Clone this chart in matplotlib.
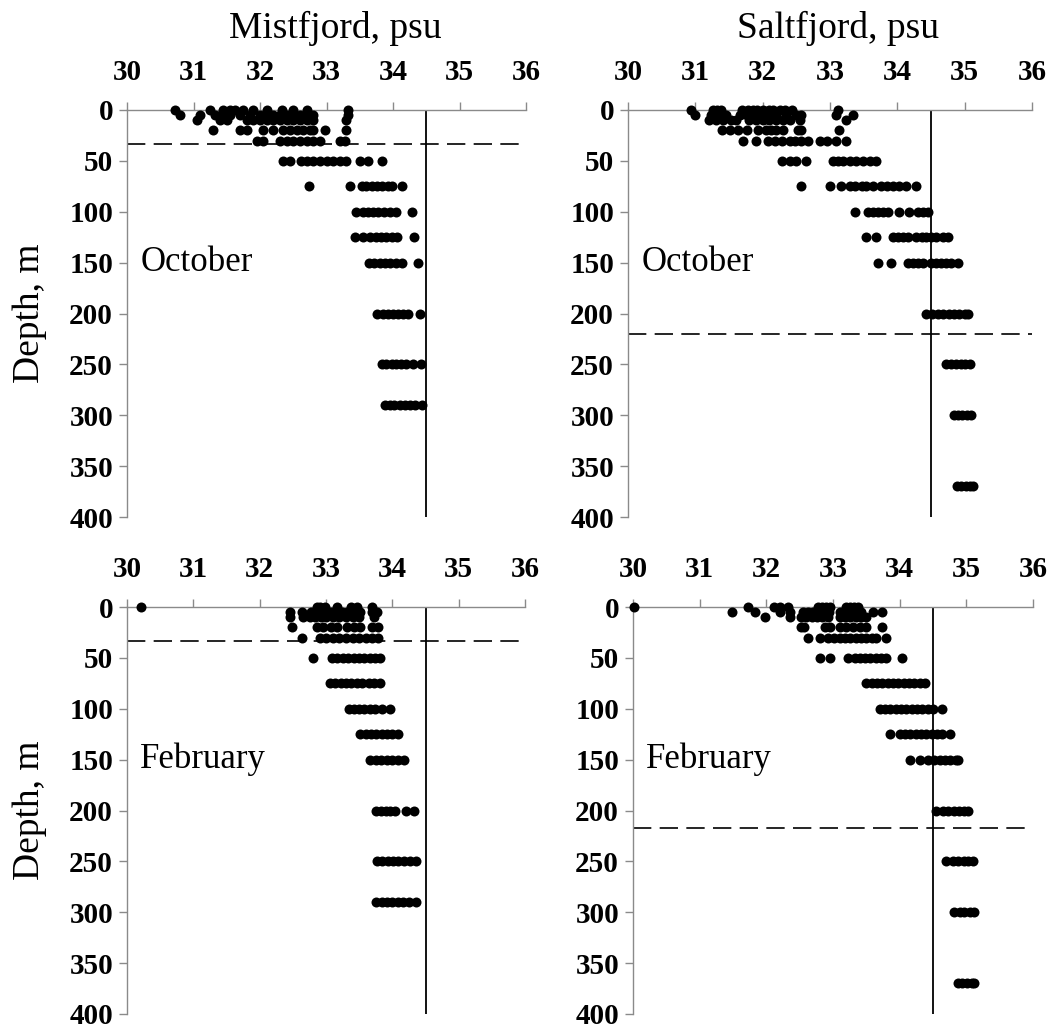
import matplotlib
matplotlib.use('Agg')
import matplotlib.pyplot as plt

plt.rcParams['font.family'] = ['Liberation Serif', 'DejaVu Serif']

# Mistfjord, October
mist_oct_depth = [0, 5, 10, 20, 30, 50, 75, 100, 125, 150, 200, 250, 290]
mist_oct_sal = [
    [30.72, 31.25, 31.45, 31.55, 31.62, 31.75, 31.9, 32.1, 32.33, 32.5, 32.7, 33.33],
    [30.8, 31.1, 31.32, 31.42, 31.55, 31.7, 31.85, 32.0, 32.1, 32.2, 32.3, 32.4, 32.5, 32.6, 32.7, 32.8, 33.32],
    [31.05, 31.4, 31.5, 31.8, 31.9, 32.0, 32.1, 32.2, 32.3, 32.4, 32.5, 32.6, 32.7, 32.8, 33.3],
    [31.3, 31.7, 31.8, 32.05, 32.2, 32.35, 32.45, 32.55, 32.65, 32.75, 32.8, 32.97, 33.3],
    [31.95, 32.05, 32.3, 32.4, 32.5, 32.6, 32.7, 32.8, 32.9, 33.2, 33.28],
    [32.34, 32.45, 32.62, 32.7, 32.8, 32.9, 33.0, 33.1, 33.2, 33.3, 33.5, 33.62, 33.84],
    [32.74, 33.35, 33.53, 33.6, 33.68, 33.76, 33.84, 33.92, 33.98, 34.13],
    [33.45, 33.55, 33.63, 33.7, 33.78, 33.86, 33.95, 34.04, 34.29],
    [33.43, 33.55, 33.66, 33.74, 33.82, 33.9, 33.98, 34.06, 34.31],
    [33.64, 33.72, 33.8, 33.88, 33.96, 34.05, 34.14, 34.38],
    [33.76, 33.85, 33.92, 34.0, 34.08, 34.15, 34.23, 34.41],
    [33.83, 33.9, 33.98, 34.05, 34.12, 34.2, 34.3, 34.42],
    [33.88, 33.95, 34.02, 34.1, 34.18, 34.25, 34.33, 34.43],
]

# Saltfjord, October
salt_oct_depth = [0, 5, 10, 20, 30, 50, 75, 100, 125, 150, 200, 250, 300, 370]
salt_oct_sal = [
    [30.94, 31.26, 31.32, 31.38, 31.7, 31.78, 31.85, 31.92, 32.0, 32.1, 32.15, 32.25, 32.33, 32.44, 33.12],
    [30.99, 31.24, 31.3, 31.38, 31.46, 31.66, 31.76, 31.85, 31.95, 32.03, 32.1, 32.2, 32.35, 32.5, 32.57, 33.09, 33.34],
    [31.21, 31.31, 31.41, 31.53, 31.6, 31.8, 31.9, 32.0, 32.1, 32.2, 32.3, 32.4, 32.55, 33.24],
    [31.39, 31.51, 31.63, 31.76, 31.93, 32.05, 32.13, 32.2, 32.3, 32.52, 32.57, 33.14],
    [31.71, 31.9, 32.08, 32.18, 32.28, 32.4, 32.48, 32.57, 32.67, 32.85, 32.95, 33.09, 33.24],
    [32.29, 32.4, 32.5, 32.65, 33.04, 33.12, 33.19, 33.29, 33.39, 33.49, 33.59, 33.69],
    [32.57, 33.0, 33.17, 33.29, 33.37, 33.47, 33.54, 33.64, 33.76, 33.84, 33.94, 34.03, 34.13, 34.28],
    [33.37, 33.56, 33.64, 33.71, 33.79, 33.86, 34.03, 34.18, 34.31, 34.38, 34.46],
    [33.54, 33.69, 33.94, 34.01, 34.08, 34.16, 34.28, 34.36, 34.43, 34.5, 34.58, 34.68, 34.75],
    [33.71, 33.91, 34.16, 34.23, 34.31, 34.38, 34.5, 34.58, 34.65, 34.73, 34.8, 34.9],
    [34.43, 34.52, 34.6, 34.68, 34.76, 34.84, 34.92, 35.0, 35.05],
    [34.73, 34.8, 34.87, 34.94, 35.01, 35.08],
    [34.84, 34.9, 34.96, 35.03, 35.1],
    [34.89, 34.95, 35.02, 35.08, 35.12],
]

# Mistfjord, February
mist_feb_depth = [0, 5, 10, 20, 30, 50, 75, 100, 125, 150, 200, 250, 290]
mist_feb_sal = [
    [30.21, 32.86, 32.91, 32.99, 33.17, 33.37, 33.47, 33.69],
    [32.46, 32.64, 32.78, 32.85, 32.92, 33.0, 33.08, 33.16, 33.24, 33.32, 33.4, 33.52, 33.7, 33.77],
    [32.46, 32.66, 32.76, 32.84, 32.92, 33.0, 33.1, 33.2, 33.3, 33.4, 33.5, 33.72],
    [32.49, 32.86, 32.96, 33.07, 33.17, 33.32, 33.42, 33.52, 33.69, 33.79],
    [32.64, 32.91, 33.0, 33.1, 33.2, 33.3, 33.4, 33.5, 33.6, 33.7, 33.79],
    [32.8, 33.09, 33.17, 33.25, 33.33, 33.42, 33.5, 33.58, 33.66, 33.74, 33.82],
    [33.06, 33.14, 33.22, 33.3, 33.38, 33.47, 33.55, 33.65, 33.72, 33.82],
    [33.34, 33.42, 33.5, 33.58, 33.66, 33.74, 33.84, 33.97],
    [33.52, 33.6, 33.68, 33.76, 33.84, 33.92, 34.0, 34.08],
    [33.67, 33.75, 33.83, 33.92, 34.0, 34.09, 34.18],
    [33.75, 33.83, 33.9, 33.97, 34.04, 34.2, 34.32],
    [33.77, 33.85, 33.93, 34.01, 34.09, 34.17, 34.26, 34.36],
    [33.76, 33.84, 33.92, 34.0, 34.08, 34.16, 34.25, 34.35],
]

# Saltfjord, February
salt_feb_depth = [0, 5, 10, 20, 30, 50, 75, 100, 125, 150, 200, 250, 300, 370]
salt_feb_sal = [
    [30.02, 31.72, 32.12, 32.2, 32.32, 32.78, 32.84, 32.9, 32.96, 33.2, 33.26, 33.32, 33.38],
    [31.48, 31.83, 32.2, 32.35, 32.55, 32.62, 32.7, 32.78, 32.86, 32.94, 33.1, 33.18, 33.26, 33.34, 33.42, 33.6, 33.73],
    [31.98, 32.35, 32.52, 32.6, 32.68, 32.76, 32.84, 32.92, 33.1, 33.18, 33.26, 33.34, 33.42, 33.5],
    [32.52, 32.57, 32.88, 32.95, 33.1, 33.2, 33.3, 33.4, 33.5, 33.73],
    [32.62, 32.8, 32.92, 33.02, 33.1, 33.18, 33.26, 33.34, 33.42, 33.5, 33.58, 33.65, 33.8],
    [32.8, 32.95, 33.23, 33.33, 33.4, 33.48, 33.56, 33.64, 33.72, 33.8, 34.03],
    [33.5, 33.58, 33.66, 33.74, 33.82, 33.9, 33.98, 34.06, 34.14, 34.22, 34.3, 34.38],
    [33.7, 33.78, 33.86, 33.94, 34.02, 34.1, 34.18, 34.26, 34.34, 34.42, 34.5, 34.63],
    [33.85, 34.0, 34.08, 34.16, 34.24, 34.32, 34.4, 34.48, 34.56, 34.64, 34.75],
    [34.15, 34.3, 34.42, 34.52, 34.6, 34.68, 34.76, 34.84, 34.88],
    [34.55, 34.65, 34.73, 34.81, 34.89, 34.96, 35.02],
    [34.7, 34.8, 34.88, 34.96, 35.03, 35.1],
    [34.82, 34.9, 34.97, 35.05, 35.12],
    [34.87, 34.94, 35.01, 35.08, 35.12],
]

# reference lines: salinity 34.5 and mixed layer depth
sal_ref = 34.5
mix_depth = {'mist_oct': 33, 'salt_oct': 220, 'mist_feb': 33, 'salt_feb': 217}

W, H = 1054, 1030
fig = plt.figure(figsize=(W / 100, H / 100), dpi=100)

# axes boxes in pixels: left, right, top, bottom
boxes = [
    (127, 526, 110, 517),
    (628, 1032, 110, 517),
    (127, 525, 607, 1014),
    (633, 1033, 607, 1014),
]
panels = [
    (mist_oct_depth, mist_oct_sal, mix_depth['mist_oct'], 'October'),
    (salt_oct_depth, salt_oct_sal, mix_depth['salt_oct'], 'October'),
    (mist_feb_depth, mist_feb_sal, mix_depth['mist_feb'], 'February'),
    (salt_feb_depth, salt_feb_sal, mix_depth['salt_feb'], 'February'),
]

spine_col = '#8a8a8a'
for (l, r, t, b), (depths, sals, mld, month) in zip(boxes, panels):
    ax = fig.add_axes([l / W, 1 - b / H, (r - l) / W, (b - t) / H])
    xs, ys = [], []
    for d, row in zip(depths, sals):
        xs += row
        ys += [d] * len(row)
    ax.plot(xs, ys, 'o', color='black', ms=7.2, mew=0, zorder=3, clip_on=False)
    ax.axvline(sal_ref, color='black', lw=1.3, zorder=2)
    ax.axhline(mld, color='black', lw=1.2, ls=(0, (11, 5)), zorder=2)
    ax.text(30.2, 150, month, fontsize=25, va='center', ha='left')

    ax.set_xlim(30, 36)
    ax.set_ylim(400, 0)
    ax.set_xticks(range(30, 37))
    ax.set_yticks(range(0, 401, 50))
    ax.xaxis.tick_top()
    for s in ['right', 'bottom']:
        ax.spines[s].set_visible(False)
    for s in ['left', 'top']:
        ax.spines[s].set_color(spine_col)
        ax.spines[s].set_linewidth(1.0)
    ax.tick_params(axis='x', direction='out', length=6, width=1.0, color=spine_col,
                   labelsize=21, pad=11)
    ax.tick_params(axis='y', direction='out', length=6, width=1.0, color=spine_col,
                   labelsize=21, pad=4)
    for lab in ax.get_xticklabels() + ax.get_yticklabels():
        lab.set_fontweight('bold')

fig.text(335 / W, 1 - 28 / H, 'Mistfjord, psu', fontsize=27, ha='center', va='center')
fig.text(838 / W, 1 - 28 / H, 'Saltfjord, psu', fontsize=27, ha='center', va='center')
fig.text(30 / W, 1 - 313 / H, 'Depth, m', fontsize=27, ha='center', va='center', rotation=90)
fig.text(30 / W, 1 - 810 / H, 'Depth, m', fontsize=27, ha='center', va='center', rotation=90)

fig.savefig('out.png', dpi=100)
